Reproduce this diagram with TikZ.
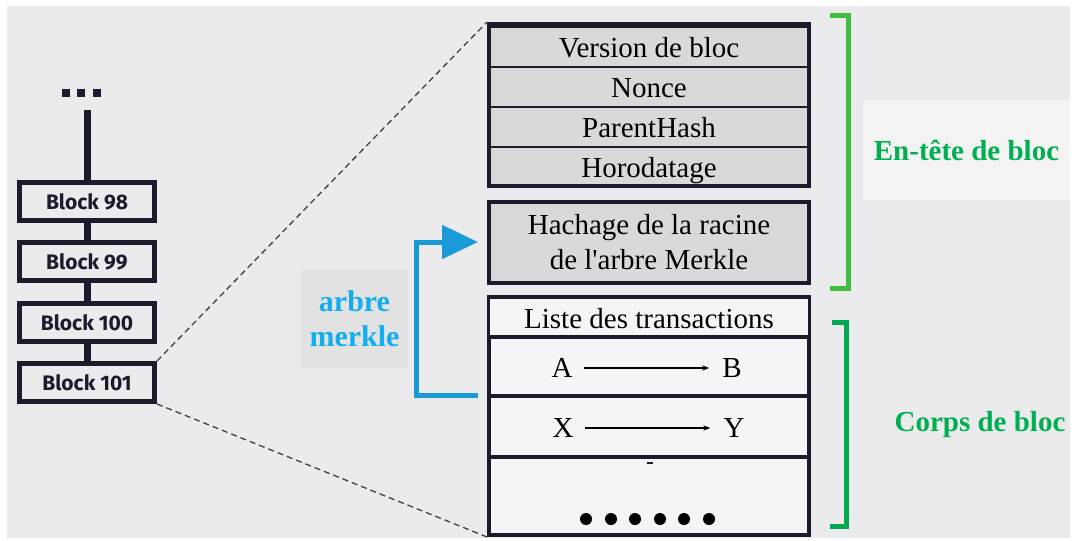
\documentclass[tikz,border=0pt]{standalone}
\usepackage{fontspec}
\setmainfont{Liberation Serif}
\newfontfamily\chainfont{Fira Sans}
\usetikzlibrary{arrows.meta}
\definecolor{navy}{HTML}{1B1B2B}
\definecolor{bg}{HTML}{EBEBED}
\definecolor{rowgray}{HTML}{D9D9D9}
\definecolor{rowlight}{HTML}{F4F5F7}
\definecolor{lblgray}{HTML}{E2E2E2}
\definecolor{lblwhite}{HTML}{F3F3F3}
\definecolor{mblue}{HTML}{1B9AD8}
\definecolor{tblue}{HTML}{12AEEF}
\definecolor{hgreen}{HTML}{3DBE3D}
\definecolor{cgreen}{HTML}{00A84F}
\definecolor{tgreen}{HTML}{00B050}
\tikzset{
  chainbox/.style={draw=navy, line width=5pt, fill=bg, minimum width=135pt,
    minimum height=38pt, inner sep=0pt, text=navy,
    font=\chainfont\bfseries\fontsize{21}{25}\selectfont},
  chainlink/.style={navy, line width=7pt},
  outerbox/.style={draw=navy, line width=4pt, minimum width=320pt, inner sep=0pt},
  hrow/.style={fill=rowgray, draw=navy, line width=2.5pt, minimum width=318pt,
    minimum height=40pt, inner sep=0pt, text height=22pt, text depth=2pt,
    font=\fontsize{29}{34}\selectfont},
  trow/.style={fill=rowlight, minimum width=318pt, inner sep=0pt,
    font=\fontsize{29}{34}\selectfont},
  sepline/.style={navy, line width=4.5pt},
  party/.style={inner sep=1pt, font=\fontsize{29}{34}\selectfont},
  transfer/.style={line width=1.6pt, -{Stealth[length=7pt]}, shorten <=10pt, shorten >=12pt},
  zoomline/.style={black!75, line width=1.3pt, dash pattern=on 6pt off 4pt},
  merkle/.style={mblue, line width=5pt, -{Triangle[length=36pt,width=33pt]}},
  bracket/.style={line width=5pt},
  side/.style={font=\bfseries\fontsize{29}{34}\selectfont, text=tgreen}
}
\begin{document}
\begin{tikzpicture}[x=1pt,y=-1pt]
% fond
\fill[white] (0,0) rectangle (1077,541);
\fill[bg] (7,6) rectangle (1070,538);

% la chaine
\foreach \dx in {62,77,93}
  \fill[navy] (\dx,89) rectangle +(8,8);
\coordinate (top) at (87,110);
\node[chainbox] (b98) at (87,201.5) {Block 98};
\node[chainbox] (b99) at (87,261.5) {Block 99};
\node[chainbox] (b100) at (87,322.5) {Block 100};
\node[chainbox] (b101) at (87,382.5) {Block 101};
\draw[chainlink] (top) -- (b98.north);
\draw[chainlink] (b98.south) -- (b99.north);
\draw[chainlink] (b99.south) -- (b100.north);
\draw[chainlink] (b100.south) -- (b101.north);

% en-tete
\node[hrow] (ver) at (649,47) {Version de bloc};
\node[hrow] (nonce) at (649,87) {Nonce};
\node[hrow] (parent) at (649,127) {ParentHash};
\node[hrow] (horo) at (649,167) {Horodatage};
\node[outerbox, minimum height=162pt] (head) at (649,105) {};
\node[outerbox, minimum height=81pt, fill=rowgray, align=center,
  font=\fontsize{29}{35}\selectfont] (hash) at (649,242)
  {Hachage de la racine\\de l\textquotesingle arbre Merkle};

% corps
\node[outerbox, minimum height=238pt, fill=rowlight] (body) at (649,416) {};
\node[trow, minimum height=40pt] (liste) at (649,319) {Liste des transactions};
\node[party] (A) at (562,368) {A};
\node[party] (B) at (732,368) {B};
\node[party] (X) at (563,428) {X};
\node[party] (Y) at (734,428) {Y};
\draw[transfer] (A) -- (B);
\draw[transfer] (X) -- (Y);
\draw[sepline] (body.west |- 0,337) -- (body.east |- 0,337);
\draw[sepline] (body.west |- 0,396) -- (body.east |- 0,396);
\draw[sepline] (body.west |- 0,457) -- (body.east |- 0,457);
\draw[navy, line width=1.5pt] (647,463) -- (653,463);
\foreach \dx in {586,611,635,660,684,709}
  \fill[black] (\dx,519) circle[radius=6];

% pointilles vers le bloc 101
\draw[zoomline] (b101.north east) -- (head.north west);
\draw[zoomline] (b101.south east) -- (body.south west);

% arbre merkle
\node[fill=lblgray, minimum width=107pt, minimum height=98pt, align=center,
  text=tblue, font=\bfseries\fontsize{30}{35}\selectfont] (mlabel) at (354.5,319)
  {arbre\\merkle};
\coordinate (mstart) at (478,395);
\draw[merkle, shorten >=9pt] (mstart) -- ++(-62,0) |- (hash.west);

% accolades
\draw[bracket, hgreen] (830,15) -- (848,15) -- (848,288) -- (830,288);
\draw[bracket, cgreen] (832,322) -- (846,322) -- (846,526) -- (830,526);
\node[fill=lblwhite, minimum width=207pt, minimum height=100pt] (hlabel) at (966.5,150) {};
\node[side] at (hlabel) {En-tête de bloc};
\node[side] (clabel) at (980,425) {Corps de bloc};
\end{tikzpicture}
\end{document}
